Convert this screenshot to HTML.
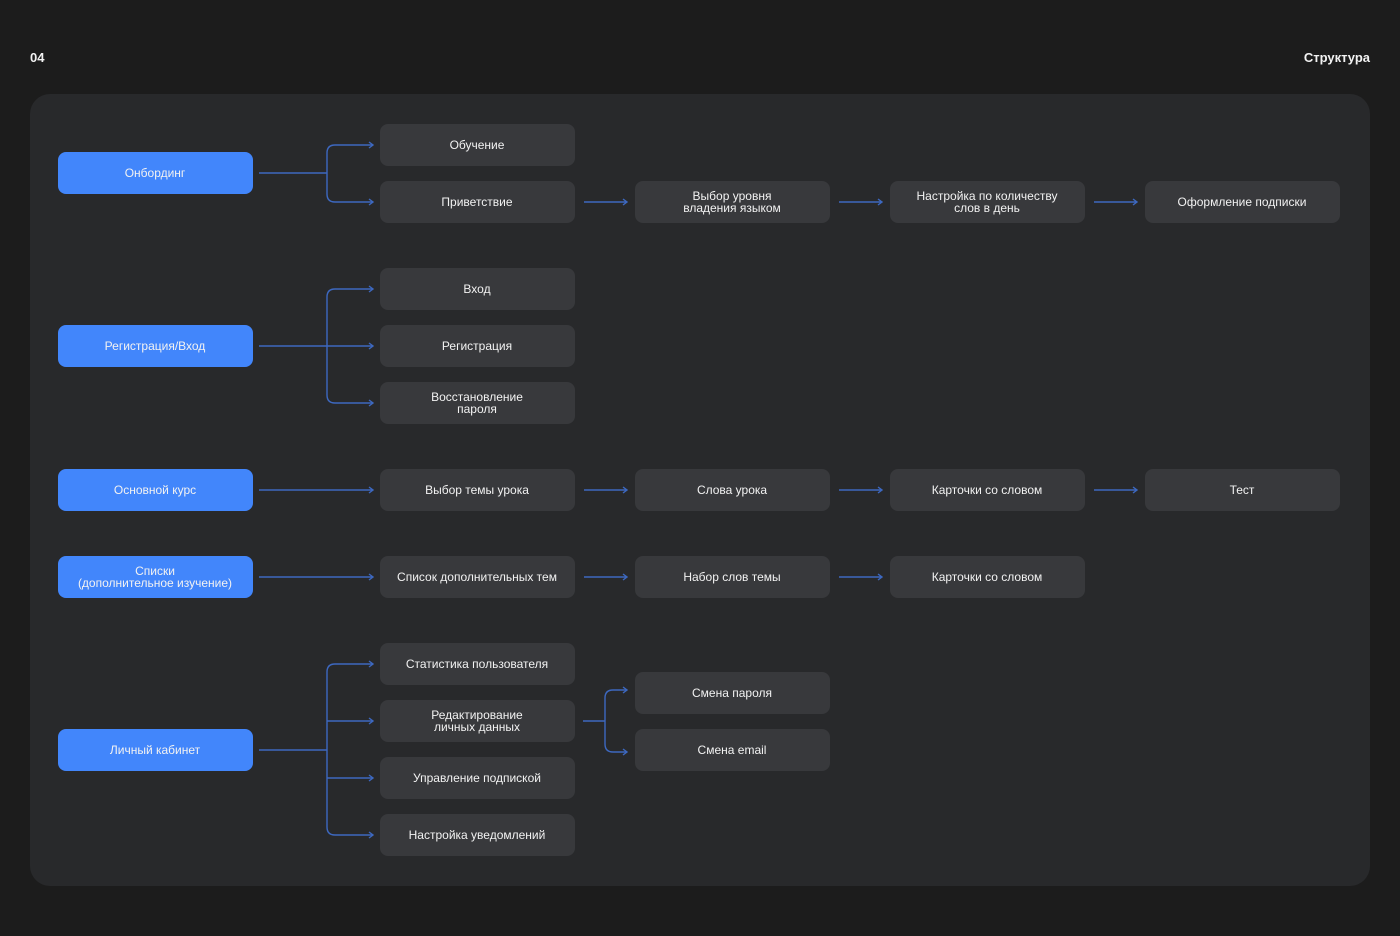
<!DOCTYPE html>
<html><head><meta charset="utf-8"><style>
html,body{margin:0;padding:0;background:#1c1c1c;}
svg{display:block}
text{font-family:"Liberation Sans",sans-serif;font-size:12px;fill:#f2f2f2;text-anchor:middle;}
.g{fill:#38393c}.b{fill:#4286fb}
.l{stroke:#3d68c0;stroke-width:1.4;fill:none}
</style></head><body>
<svg width="1400" height="936" viewBox="0 0 1400 936">
<rect width="1400" height="936" fill="#1c1c1c"/>
<text x="30" y="62" style="text-anchor:start;font-weight:bold;font-size:13px">04</text>
<text x="1370" y="62" style="text-anchor:end;font-weight:bold;font-size:13px">Структура</text>
<rect x="30" y="94" width="1340" height="792" rx="20" fill="#28292b"/>

<g class="l">
<!-- onboarding -->
<path d="M259 173H327M373 145H335Q327 145 327 153V194Q327 202 335 202H373"/>
<path d="M369 142L373 145L369 148M369 199L373 202L369 205"/>
<path d="M584 202H627M623 199L627 202L623 205M839 202H882M878 199L882 202L878 205M1094 202H1137M1133 199L1137 202L1133 205"/>
<!-- reg -->
<path d="M259 346H373M373 289H335Q327 289 327 297V395Q327 403 335 403H373"/>
<path d="M369 286L373 289L369 292M369 343L373 346L369 349M369 400L373 403L369 406"/>
<!-- course -->
<path d="M259 490H373M369 487L373 490L369 493M584 490H627M623 487L627 490L623 493M839 490H882M878 487L882 490L878 493M1094 490H1137M1133 487L1137 490L1133 493"/>
<!-- lists -->
<path d="M259 577H373M369 574L373 577L369 580M584 577H627M623 574L627 577L623 580M839 577H882M878 574L882 577L878 580"/>
<!-- lk -->
<path d="M259 750H327M373 664H335Q327 664 327 672V827Q327 835 335 835H373M327 721H373M327 778H373"/>
<path d="M369 661L373 664L369 667M369 718L373 721L369 724M369 775L373 778L369 781M369 832L373 835L369 838"/>
<path d="M583 721H605M627 690H613Q605 690 605 698V744Q605 752 613 752H627"/>
<path d="M623 687L627 690L623 693M623 749L627 752L623 755"/>
</g>

<!-- blue nodes -->
<rect class="b" x="58" y="152" width="195" height="42" rx="8"/><text x="155" y="177">Онбординг</text>
<rect class="b" x="58" y="325" width="195" height="42" rx="8"/><text x="155" y="350">Регистрация/Вход</text>
<rect class="b" x="58" y="469" width="195" height="42" rx="8"/><text x="155" y="494">Основной курс</text>
<rect class="b" x="58" y="556" width="195" height="42" rx="8"/><text x="155" y="575">Списки</text><text x="155" y="587">(дополнительное изучение)</text>
<rect class="b" x="58" y="729" width="195" height="42" rx="8"/><text x="155" y="754">Личный кабинет</text>

<!-- gray nodes -->
<g>
<rect class="g" x="380" y="124" width="195" height="42" rx="8"/><text x="477" y="149">Обучение</text>
<rect class="g" x="380" y="181" width="195" height="42" rx="8"/><text x="477" y="206">Приветствие</text>
<rect class="g" x="635" y="181" width="195" height="42" rx="8"/><text x="732" y="200">Выбор уровня</text><text x="732" y="212">владения языком</text>
<rect class="g" x="890" y="181" width="195" height="42" rx="8"/><text x="987" y="200">Настройка по количеству</text><text x="987" y="212">слов в день</text>
<rect class="g" x="1145" y="181" width="195" height="42" rx="8"/><text x="1242" y="206">Оформление подписки</text>

<rect class="g" x="380" y="268" width="195" height="42" rx="8"/><text x="477" y="293">Вход</text>
<rect class="g" x="380" y="325" width="195" height="42" rx="8"/><text x="477" y="350">Регистрация</text>
<rect class="g" x="380" y="382" width="195" height="42" rx="8"/><text x="477" y="401">Восстановление</text><text x="477" y="413">пароля</text>

<rect class="g" x="380" y="469" width="195" height="42" rx="8"/><text x="477" y="494">Выбор темы урока</text>
<rect class="g" x="635" y="469" width="195" height="42" rx="8"/><text x="732" y="494">Слова урока</text>
<rect class="g" x="890" y="469" width="195" height="42" rx="8"/><text x="987" y="494">Карточки со словом</text>
<rect class="g" x="1145" y="469" width="195" height="42" rx="8"/><text x="1242" y="494">Тест</text>

<rect class="g" x="380" y="556" width="195" height="42" rx="8"/><text x="477" y="581">Список дополнительных тем</text>
<rect class="g" x="635" y="556" width="195" height="42" rx="8"/><text x="732" y="581">Набор слов темы</text>
<rect class="g" x="890" y="556" width="195" height="42" rx="8"/><text x="987" y="581">Карточки со словом</text>

<rect class="g" x="380" y="643" width="195" height="42" rx="8"/><text x="477" y="668">Статистика пользователя</text>
<rect class="g" x="380" y="700" width="195" height="42" rx="8"/><text x="477" y="719">Редактирование</text><text x="477" y="731">личных данных</text>
<rect class="g" x="380" y="757" width="195" height="42" rx="8"/><text x="477" y="782">Управление подпиской</text>
<rect class="g" x="380" y="814" width="195" height="42" rx="8"/><text x="477" y="839">Настройка уведомлений</text>
<rect class="g" x="635" y="672" width="195" height="42" rx="8"/><text x="732" y="697">Смена пароля</text>
<rect class="g" x="635" y="729" width="195" height="42" rx="8"/><text x="732" y="754">Смена email</text>
</g>
</svg>
</body></html>
